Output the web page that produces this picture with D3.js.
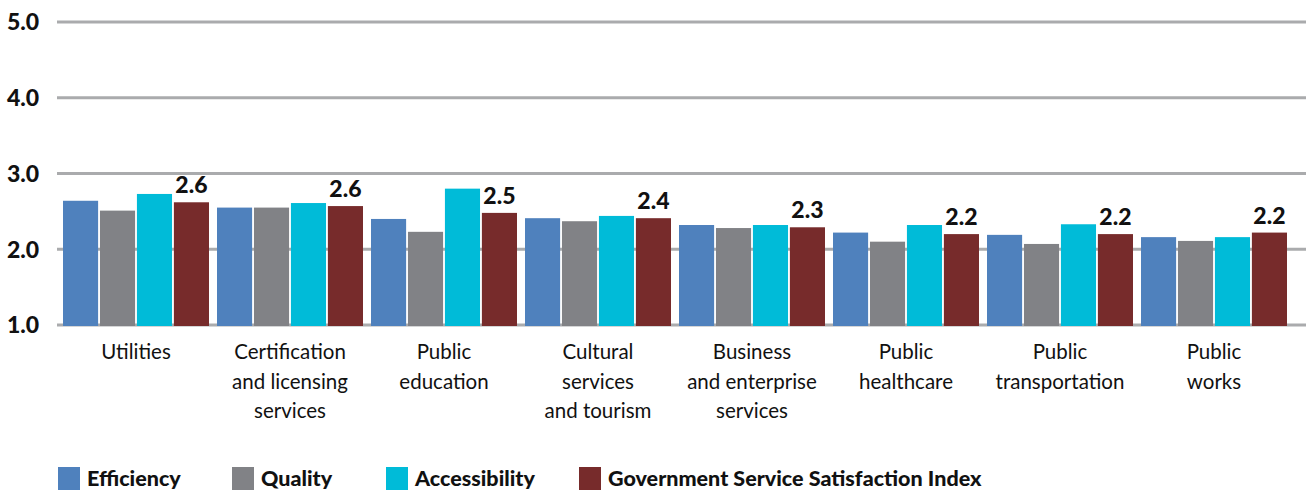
<!DOCTYPE html>
<html>
<head>
<meta charset="utf-8">
<script src="https://cdn.jsdelivr.net/npm/d3@7"></script>
<style>
  body { margin: 0; background: #fff; }
  text { font-family: Lato, "Open Sans", sans-serif; fill: #111; }
</style>
</head>
<body>
<svg id="chart" width="1309" height="492"></svg>
<script>
const categories = [
    ["Utilities"],
    ["Certification", "and licensing", "services"],
    ["Public", "education"],
    ["Cultural", "services", "and tourism"],
    ["Business", "and enterprise", "services"],
    ["Public", "healthcare"],
    ["Public", "transportation"],
    ["Public", "works"]
]
const seriesNames = ["Efficiency", "Quality", "Accessibility", "Government Service Satisfaction Index"]
const seriesColors = ["#4f81bd", "#818286", "#00bbd8", "#772b2b"]
const efficiency = [2.64, 2.55, 2.40, 2.41, 2.32, 2.22, 2.19, 2.16]
const quality = [2.51, 2.55, 2.23, 2.37, 2.28, 2.10, 2.07, 2.11]
const accessibility = [2.73, 2.61, 2.80, 2.44, 2.32, 2.32, 2.33, 2.16]
const gssi = [2.62, 2.57, 2.48, 2.41, 2.29, 2.20, 2.20, 2.22]
const gssiLabels = ["2.6", "2.6", "2.5", "2.4", "2.3", "2.2", "2.2", "2.2"]
const yTicks = [1, 2, 3, 4, 5]

const allSeries = [efficiency, quality, accessibility, gssi]

const svg = d3.select("#chart")

const catKeys = categories.map(c => c.join(" "))

const x0 = d3.scaleBand()
    .domain(catKeys)
    .range([59, 1291])
    .paddingInner(0.052)
    .paddingOuter(0.026)

const x1 = d3.scaleBand()
    .domain(d3.range(seriesNames.length))
    .range([0, x0.bandwidth()])
    .paddingInner(0.05)

const y = d3.scaleLinear()
    .domain([1, 5])
    .range([325, 22])

// gridlines
svg.append("g")
    .selectAll("line")
    .data(yTicks)
    .join("line")
    .attr("x1", 57)
    .attr("x2", 1306)
    .attr("y1", d => y(d))
    .attr("y2", d => y(d))
    .attr("stroke", "#aaabad")
    .attr("stroke-width", 3)

// y tick labels
svg.append("g")
    .selectAll("text")
    .data(yTicks)
    .join("text")
    .attr("x", 7)
    .attr("y", d => y(d))
    .attr("dy", "0.36em")
    .style("font-size", "23px")
    .style("font-weight", "900")
    .text(d => d.toFixed(1))

// bars
const groups = svg.append("g")
    .selectAll("g")
    .data(catKeys)
    .join("g")
    .attr("transform", d => `translate(${x0(d)},0)`)

groups.selectAll("rect")
    .data((d, i) => allSeries.map((s, j) => ({ series: j, value: s[i] })))
    .join("rect")
    .attr("x", d => x1(d.series))
    .attr("width", x1.bandwidth())
    .attr("y", d => y(d.value))
    .attr("height", d => y(1) - y(d.value) + 1)
    .attr("fill", d => seriesColors[d.series])

// GSSI value labels
svg.append("g")
    .selectAll("text")
    .data(catKeys)
    .join("text")
    .attr("x", (d, i) => x0(d) + x1(3) + x1.bandwidth() / 2)
    .attr("y", (d, i) => y(gssi[i]) - 9)
    .attr("text-anchor", "middle")
    .style("font-size", "23px")
    .style("font-weight", "900")
    .text((d, i) => gssiLabels[i])

// category labels
const catLabels = svg.append("g")
    .selectAll("text")
    .data(categories)
    .join("text")
    .attr("x", (d, i) => x0(catKeys[i]) + x0.bandwidth() / 2)
    .attr("y", 359)
    .attr("text-anchor", "middle")
    .style("font-size", "20.5px")

catLabels.selectAll("tspan")
    .data(d => d)
    .join("tspan")
    .attr("x", function () { return this.parentNode.getAttribute("x") })
    .attr("dy", (d, i) => i === 0 ? 0 : 29.5)
    .text(d => d)

// legend
const legendX = [58, 232, 386, 579]
const legend = svg.append("g")
    .selectAll("g")
    .data(seriesNames)
    .join("g")
    .attr("transform", (d, i) => `translate(${legendX[i]},467)`)

legend.append("rect")
    .attr("width", 22)
    .attr("height", 23)
    .attr("fill", (d, i) => seriesColors[i])

legend.append("text")
    .attr("x", 29)
    .attr("y", 19)
    .style("font-size", "21.5px")
    .style("font-weight", "900")
    .text(d => d)
</script>
</body>
</html>
